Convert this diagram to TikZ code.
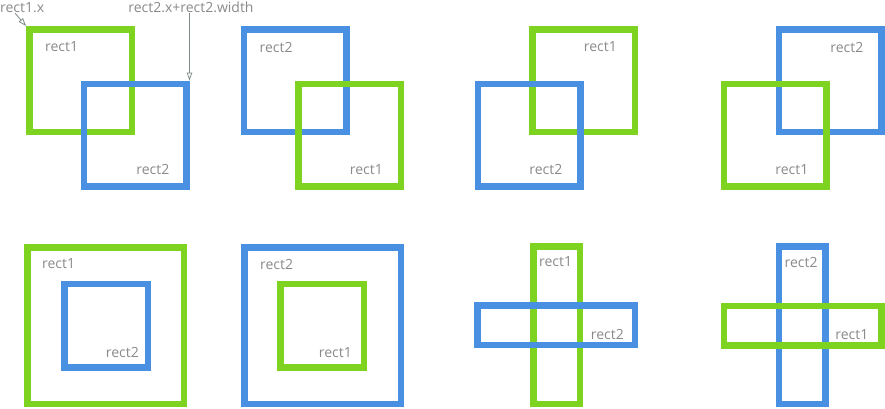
\documentclass[tikz,border=0pt]{standalone}
\usepackage{fontspec}
\setmainfont{Open Sans}
\usetikzlibrary{calc,arrows.meta}
\definecolor{rectgreen}{HTML}{7ED321}
\definecolor{rectblue}{HTML}{4A90E2}
\definecolor{labelgray}{HTML}{8A8A8A}
\definecolor{arrowgray}{HTML}{7E8C88}

\begin{document}
\begin{tikzpicture}[x=1pt, y=-1pt,
  frame/.style={draw=#1, line width=6.5pt, inner sep=0pt, outer sep=3.25pt},
  sq/.style={minimum width=#1, minimum height=#1},
  lbl/.style={font=\fontsize{14}{15}\selectfont, text=labelgray, inner sep=0pt},
  arr/.style={-{Triangle[open, length=8pt, width=5.5pt]}, line width=0.8pt, arrowgray}
]
  \useasboundingbox (0,0) rectangle (885,408);

  % top row: overlapping squares
  \node[frame=rectgreen, sq=102.5pt] (g1) at (80.5, 80.5) {};
  \node[frame=rectblue, sq=102.5pt] (b1) at (135, 135) {};
  \node[lbl, anchor=west] at ($(g1.north west)+(19,21)$) {rect1};
  \node[lbl, anchor=east] at ($(b1.south east)+(-20,-20)$) {rect2};

  \node[frame=rectblue, sq=102.5pt] (b2) at (295, 80.5) {};
  \node[frame=rectgreen, sq=102.5pt] (g2) at (349.5, 135) {};
  \node[lbl, anchor=west] at ($(b2.north west)+(19,21)$) {rect2};
  \node[lbl, anchor=east] at ($(g2.south east)+(-21,-20)$) {rect1};

  \node[frame=rectgreen, sq=102.5pt] (g3) at (583.5, 80.5) {};
  \node[frame=rectblue, sq=102.5pt] (b3) at (529, 135) {};
  \node[lbl, anchor=east] at ($(g3.north east)+(-21,21)$) {rect1};
  \node[lbl, anchor=east] at ($(b3.south east)+(-21,-20)$) {rect2};

  \node[frame=rectblue, sq=102.5pt] (b4) at (830, 80.5) {};
  \node[frame=rectgreen, sq=102.5pt] (g4) at (775, 135) {};
  \node[lbl, anchor=east] at ($(b4.north east)+(-21,21)$) {rect2};
  \node[lbl, anchor=east] at ($(g4.south east)+(-21,-20)$) {rect1};

  % coordinate notes
  \node[lbl, anchor=west] (lx) at (0, 8) {rect1.x};
  \node[lbl] (lw) at (191, 7) {rect2.x+rect2.width};
  \draw[arr] ([xshift=-7pt]lx.south) -- (g1.north west);
  \draw[arr] (lw.south -| b1.north east) -- (b1.north east);

  % bottom row: nested and crossing
  \node[frame=rectgreen, sq=156.5pt] (g5) at (105.5, 325.5) {};
  \node[frame=rectblue, sq=83.5pt] (b5) at (106, 325.5) {};
  \node[lbl, anchor=west] at ($(g5.north west)+(18,20)$) {rect1};
  \node[lbl, anchor=east] at ($(b5.south east)+(-12,-18)$) {rect2};

  \node[frame=rectblue, sq=156.5pt] (b6) at (322.5, 325.5) {};
  \node[frame=rectgreen, sq=83.5pt] (g6) at (322, 325.5) {};
  \node[lbl, anchor=west] at ($(b6.north west)+(19,20)$) {rect2};
  \node[lbl, anchor=east] at ($(g6.south east)+(-15,-18)$) {rect1};

  \node[frame=rectgreen, minimum width=46.5pt, minimum height=157.5pt] (g7) at (556.5, 325) {};
  \node[frame=rectblue, minimum width=157.5pt, minimum height=39.5pt] (b7) at (556, 325.3) {};
  \node[lbl, anchor=west] at ($(g7.north west)+(9,19)$) {rect1};
  \node[lbl, anchor=east] at ($(b7.south east)+(-14,-14)$) {rect2};

  \node[frame=rectblue, minimum width=46.5pt, minimum height=157.5pt] (b8) at (802, 325) {};
  \node[frame=rectgreen, minimum width=157.5pt, minimum height=39.5pt] (g8) at (802.5, 325.5) {};
  \node[lbl, anchor=west] at ($(b8.north west)+(9,19)$) {rect2};
  \node[lbl, anchor=east] at ($(g8.south east)+(-16,-14)$) {rect1};
\end{tikzpicture}
\end{document}
